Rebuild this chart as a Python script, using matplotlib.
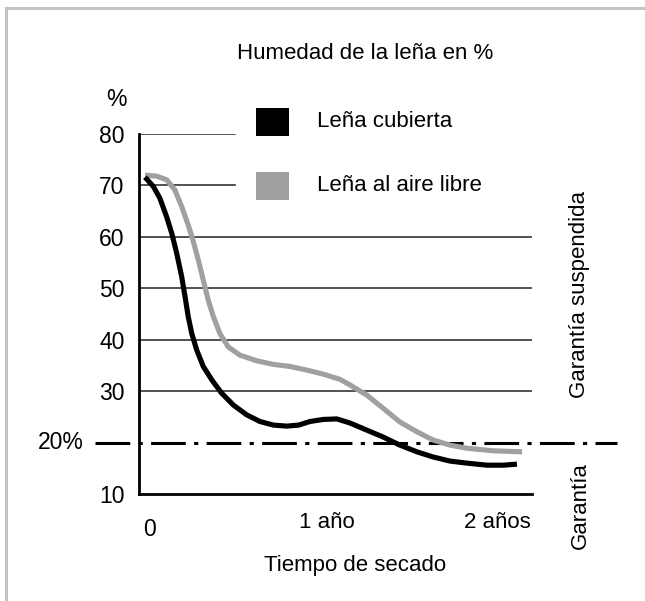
import matplotlib.pyplot as plt
from matplotlib.patches import Rectangle
from matplotlib.lines import Line2D

plt.rcParams['font.family'] = ['Liberation Sans', 'DejaVu Sans']
plt.rcParams['lines.scale_dashes'] = False

# tiempo de secado en años, humedad en %
t_cubierta = [-0.028, 0.019, 0.056, 0.094, 0.123, 0.151, 0.179, 0.198, 0.216, 0.236,
              0.264, 0.301, 0.349, 0.405, 0.471, 0.546, 0.621, 0.697, 0.772, 0.84,
              0.904, 0.98, 1.056, 1.13, 1.226, 1.316, 1.412, 1.508, 1.599, 1.695,
              1.791, 1.904, 1.994, 2.073]
h_cubierta = [71.6, 69.8, 67.5, 63.9, 60.7, 56.8, 52.3, 48.4, 44.5, 41.2,
              38.0, 34.8, 32.2, 29.6, 27.3, 25.4, 24.1, 23.4, 23.2, 23.4,
              24.1, 24.5, 24.6, 23.8, 22.4, 21.1, 19.5, 18.2, 17.2, 16.4,
              16.0, 15.6, 15.6, 15.8]

t_aire = [-0.028, 0.038, 0.094, 0.141, 0.179, 0.216, 0.245, 0.273, 0.301, 0.329,
          0.358, 0.395, 0.442, 0.508, 0.603, 0.697, 0.791, 0.885, 0.979, 1.073,
          1.13, 1.226, 1.316, 1.412, 1.508, 1.599, 1.695, 1.791, 1.938, 2.102]
h_aire = [72.0, 71.8, 71.1, 69.1, 65.9, 62.3, 59.1, 55.5, 51.6, 47.7,
          44.5, 41.2, 38.6, 37.0, 35.9, 35.2, 34.8, 34.1, 33.3, 32.3,
          31.2, 29.2, 26.7, 24.0, 22.1, 20.5, 19.5, 18.9, 18.4, 18.2]

y_ticks = [10, 30, 40, 50, 60, 70, 80]
lineas_largas = [30, 40, 50, 60]
lineas_cortas = [70, 80]
limite = 20

x_pos = [0.0, 1.0, 1.96]
x_labels = ['0', '1 año', '2 años']

series = ['Leña cubierta', 'Leña al aire libre']
colores = ['black', '#a0a0a0']

fig = plt.figure(figsize=(6.45, 6.01), dpi=100)
ax = fig.add_axes([139/645, 1-494/601, 393/645, 360/601])
ax.set_xlim(-0.062, 2.158)
ax.set_ylim(10, 80)

for y in lineas_largas:
    ax.axhline(y, color='#222222', lw=1.1, zorder=1)
for y in lineas_cortas:
    ax.plot([-0.062, 0.48], [y, y], color='#222222', lw=1.1, zorder=1)

ax.plot([-0.31, 2.64], [limite, limite], color='black', lw=2.2,
        ls=(0, (25, 6, 3, 6)), clip_on=False, zorder=2)

ax.plot(t_aire, h_aire, color=colores[1], lw=3.7, solid_capstyle='butt',
        solid_joinstyle='round', zorder=3)
ax.plot(t_cubierta, h_cubierta, color=colores[0], lw=3.7, solid_capstyle='butt',
        solid_joinstyle='round', zorder=4)

for s in ['top', 'right']:
    ax.spines[s].set_visible(False)
for s in ['left', 'bottom']:
    ax.spines[s].set_linewidth(2.0)
    ax.spines[s].set_color('black')

ax.set_yticks(y_ticks)
ax.set_yticklabels([str(v) for v in y_ticks], fontsize=16.5)
ax.tick_params(axis='y', length=0, pad=10.5)
ax.set_xticks([])

xt = ax.get_xaxis_transform()
ax.text(x_pos[0], -0.1, x_labels[0], transform=xt, ha='center', va='center', fontsize=16.5)
for x, lab in zip(x_pos[1:], x_labels[1:]):
    ax.text(x, -0.08, lab, transform=xt, ha='center', va='center', fontsize=16)

ax.text(-0.375, limite, '20%', ha='right', va='center', fontsize=16.5, clip_on=False)

fig.text(116/645, 1-100/601, '%', ha='center', va='center', fontsize=16.5)
fig.text(365/645, 1-59/601, 'Humedad de la leña en %', ha='center', va='baseline', fontsize=16)
fig.text(355/645, 1-571/601, 'Tiempo de secado', ha='center', va='baseline', fontsize=16)
fig.text(580/645, 1-295/601, 'Garantía suspendida', ha='center', va='center',
         rotation=90, fontsize=16)
fig.text(580/645, 1-506/601, 'Garantía', ha='center', va='center',
         rotation=90, fontsize=16)

# leyenda: cuadros de color y texto
for i, (nombre, col) in enumerate(zip(series, colores)):
    top = 108 + 64 * i
    fig.add_artist(Rectangle((256/645, 1-(top+28)/601), 33/645, 28/601,
                             facecolor=col, edgecolor='none'))
    fig.text(317/645, 1-(127+64*i)/601, nombre, ha='left', va='baseline', fontsize=16)

# marco gris
fig.add_artist(Line2D([6/645, 1], [1-8/601, 1-8/601], color='#c4c4c4', lw=2.2))
fig.add_artist(Line2D([6/645, 6/645], [0, 1-8/601], color='#c4c4c4', lw=2.2))

fig.savefig('out.png', dpi=100)
